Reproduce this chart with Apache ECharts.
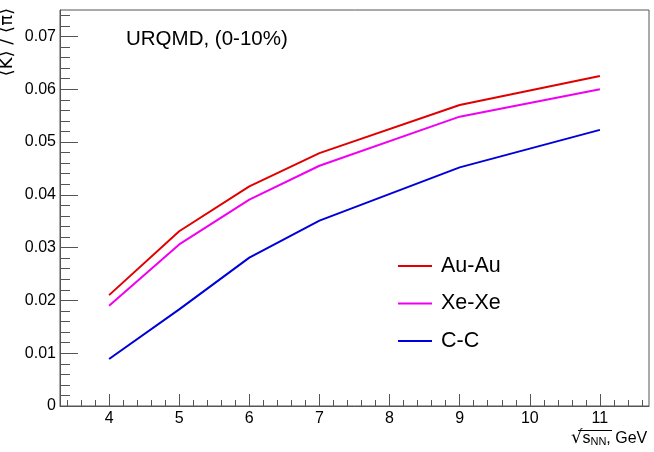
<!DOCTYPE html>
<html>
<head>
<meta charset="utf-8">
<script src="https://cdn.jsdelivr.net/npm/echarts@6/dist/echarts.min.js"></script>
<style>html,body{margin:0;padding:0;background:#fff;}#c{width:654px;height:452px;}</style>
</head>
<body>
<div id="c"></div>
<script>
const xValues = [4, 5, 6, 7, 9, 11];
const auAu = [0.0210, 0.0331, 0.0416, 0.0479, 0.0570, 0.0625];
const xeXe = [0.0190, 0.0306, 0.0391, 0.0455, 0.0548, 0.0600];
const cC   = [0.0089, 0.0183, 0.0281, 0.0351, 0.0452, 0.0523];
const seriesNames = ['Au-Au', 'Xe-Xe', 'C-C'];
const xMajorTicks = [4, 5, 6, 7, 8, 9, 10, 11];
const yMajorTicks = [0, 0.01, 0.02, 0.03, 0.04, 0.05, 0.06, 0.07];

const xMin = 3.3, xMax = 11.7, yMin = 0, yMax = 0.075;
const xMinor = [];
for (let k = 17; k <= 58; k++) xMinor.push(+(k * 0.2).toFixed(1));
const yMinor = [];
for (let k = 0; k <= 37; k++) yMinor.push(+(k * 0.002).toFixed(3));

const pairs = arr => xValues.map((x, i) => [x, arr[i]]);
const axisCol = '#555';
const font = 'Liberation Sans, Arial, Helvetica, sans-serif';

const chart = echarts.init(document.getElementById('c'));
chart.setOption({
  animation: false,
  backgroundColor: '#fff',
  textStyle: { fontFamily: font },
  grid: { left: 60, right: 5, top: 10, bottom: 46, show: true, borderColor: axisCol, borderWidth: 1 },
  title: {
    text: 'URQMD, (0-10%)', left: 126, top: 29, padding: 0,
    textStyle: { fontFamily: font, fontSize: 20.5, fontWeight: 'normal', color: '#000' }
  },
  legend: {
    orient: 'vertical', left: 398, top: 255, padding: 0, itemWidth: 34, itemHeight: 2, itemGap: 15.5,
    icon: 'rect', data: seriesNames,
    textStyle: { fontFamily: font, fontSize: 21.5, lineHeight: 22, color: '#000', padding: [0, 0, 0, 4] }
  },
  xAxis: [{
    type: 'value', min: xMin, max: xMax, position: 'bottom',
    axisLine: { show: true, lineStyle: { color: axisCol, width: 1 } },
    axisTick: { show: true, inside: true, length: 12, customValues: xMajorTicks, lineStyle: { color: axisCol } },
    axisLabel: { show: true, customValues: xMajorTicks, margin: 5, fontSize: 16, color: '#000', fontFamily: font },
    splitLine: { show: false }
  }, {
    type: 'value', min: xMin, max: xMax, position: 'bottom',
    axisLine: { show: false },
    axisTick: { show: true, inside: true, length: 6, customValues: xMinor, lineStyle: { color: axisCol } },
    axisLabel: { show: false },
    splitLine: { show: false }
  }],
  yAxis: [{
    type: 'value', min: yMin, max: yMax, position: 'left',
    axisLine: { show: true, lineStyle: { color: axisCol, width: 1 } },
    axisTick: { show: true, inside: true, length: 18, customValues: yMajorTicks, lineStyle: { color: axisCol } },
    axisLabel: { show: true, customValues: yMajorTicks, margin: 4, fontSize: 16, color: '#000', fontFamily: font },
    splitLine: { show: false }
  }, {
    type: 'value', min: yMin, max: yMax, position: 'left',
    axisLine: { show: false },
    axisTick: { show: true, inside: true, length: 10, customValues: yMinor, lineStyle: { color: axisCol } },
    axisLabel: { show: false },
    splitLine: { show: false }
  }],
  series: [
    { name: seriesNames[0], type: 'line', data: pairs(auAu), showSymbol: false, symbol: 'none', color: '#e00000', lineStyle: { width: 2, color: '#e00000' } },
    { name: seriesNames[1], type: 'line', data: pairs(xeXe), showSymbol: false, symbol: 'none', color: '#f000f0', lineStyle: { width: 2, color: '#f000f0' } },
    { name: seriesNames[2], type: 'line', data: pairs(cC), showSymbol: false, symbol: 'none', color: '#0000d8', lineStyle: { width: 2, color: '#0000d8' } }
  ],
  graphic: [
    {
      type: 'text', x: 7, y: 8, rotation: Math.PI / 2,
      style: { text: '\u27e8K\u27e9 / \u27e8\u03c0\u27e9', font: '18px "DejaVu Sans", sans-serif', fill: '#000', align: 'right', verticalAlign: 'middle' }
    },
    {
      type: 'text', x: 571, y: 429,
      style: {
        text: '{r|\u221a}{s|s}{sub|NN}{t|, GeV}',
        font: '16px ' + font, fill: '#000', verticalAlign: 'top',
        rich: {
          r: { fontSize: 18, fontFamily: 'DejaVu Sans', verticalAlign: 'bottom' },
          s: { fontSize: 16, fontFamily: font, verticalAlign: 'bottom' },
          sub: { fontSize: 11, fontFamily: font, padding: [6, 0, 0, 0], verticalAlign: 'bottom' },
          t: { fontSize: 16, fontFamily: font, verticalAlign: 'bottom' }
        }
      }
    },
    { type: 'line', shape: { x1: 578, y1: 430.5, x2: 612, y2: 430.5 }, style: { stroke: '#000', lineWidth: 1 } }
  ]
});
</script>
</body>
</html>
